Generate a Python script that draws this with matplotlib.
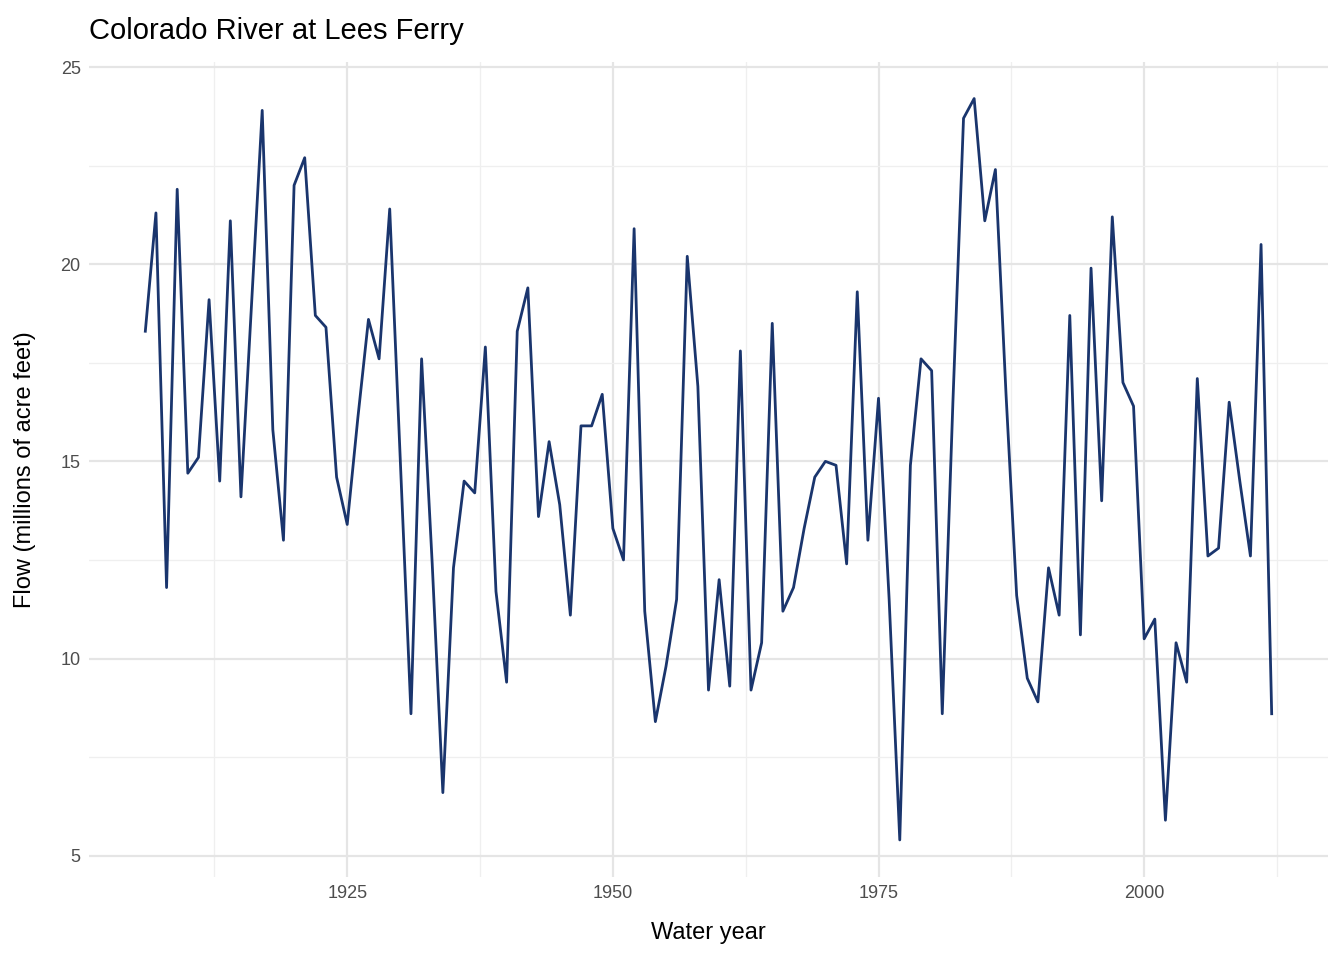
import numpy as np
import matplotlib
matplotlib.use("Agg")
import matplotlib.pyplot as plt
from matplotlib.ticker import MultipleLocator

# water years and annual flow (millions of acre feet)
years = list(range(1906, 2013))
flow = [18.3, 21.3, 11.8, 21.9, 14.7, 15.1, 19.1, 14.5, 21.1, 14.1,
        19.0, 23.9, 15.8, 13.0, 22.0, 22.7, 18.7, 18.4, 14.6, 13.4,
        16.1, 18.6, 17.6, 21.4, 15.0, 8.6, 17.6, 12.4, 6.6, 12.3,
        14.5, 14.2, 17.9, 11.7, 9.4, 18.3, 19.4, 13.6, 15.5, 13.9,
        11.1, 15.9, 15.9, 16.7, 13.3, 12.5, 20.9, 11.2, 8.4, 9.8,
        11.5, 20.2, 16.9, 9.2, 12.0, 9.3, 17.8, 9.2, 10.4, 18.5,
        11.2, 11.8, 13.3, 14.6, 15.0, 14.9, 12.4, 19.3, 13.0, 16.6,
        11.5, 5.4, 14.9, 17.6, 17.3, 8.6, 16.5, 23.7, 24.2, 21.1,
        22.4, 16.7, 11.6, 9.5, 8.9, 12.3, 11.1, 18.7, 10.6, 19.9,
        14.0, 21.2, 17.0, 16.4, 10.5, 11.0, 5.9, 10.4, 9.4, 17.1,
        12.6, 12.8, 16.5, 14.5, 12.6, 20.5, 8.6]

plt.rcParams['font.family'] = ['Liberation Sans', 'DejaVu Sans']

fig = plt.figure(figsize=(13.44, 9.6), dpi=100)
ax = fig.add_axes([89/1344, 1 - 877/960, (1328-89)/1344, (877-61.5)/960])

ax.plot(years, flow, color='#1a356d', lw=2)

ax.set_xlim(1906 - 0.05*106, 2012 + 0.05*106)
ax.set_ylim(5.4 - 0.05*18.8, 24.2 + 0.05*18.8)
ax.xaxis.set_major_locator(MultipleLocator(25))
ax.xaxis.set_minor_locator(MultipleLocator(12.5))
ax.yaxis.set_major_locator(MultipleLocator(5))
ax.yaxis.set_minor_locator(MultipleLocator(2.5))
ax.grid(which='major', color='#e5e5e5', lw=1.6)
ax.grid(which='minor', color='#efefef', lw=0.9)
ax.set_axisbelow(True)
for s in ax.spines.values():
    s.set_visible(False)
ax.tick_params(which='both', length=0, labelsize=13, labelcolor='#4d4d4d', pad=6)

ax.set_xlabel('Water year', fontsize=17, labelpad=14)
ax.set_ylabel('Flow (millions of acre feet)', fontsize=17, labelpad=18)
ax.set_title('Colorado River at Lees Ferry', fontsize=21, loc='left', x=0.0, pad=16)

fig.savefig('out.png', dpi=100, facecolor='white')
